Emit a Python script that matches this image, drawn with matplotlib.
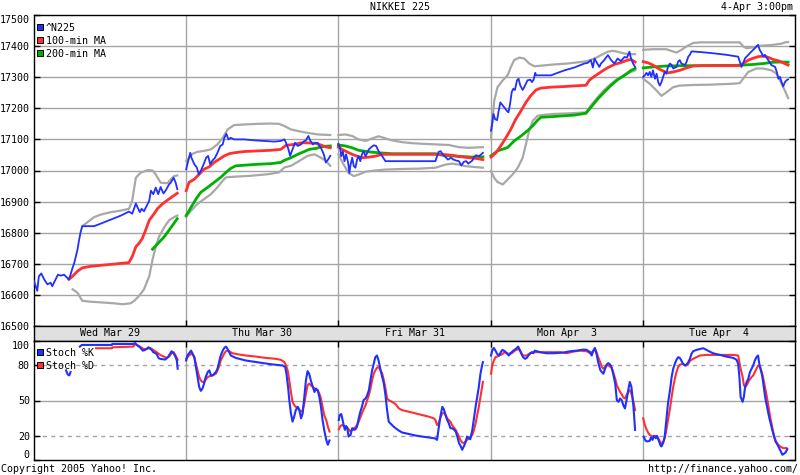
import numpy as np
import matplotlib
matplotlib.use("Agg")
from matplotlib import pyplot as plt
from matplotlib.patches import Rectangle

nan = float("nan")

DAYS = ["Wed Mar 29", "Thu Mar 30", "Fri Mar 31", "Mon Apr  3", "Tue Apr  4"]
SESSION = 375  # minutes given to each day on the x axis (9:00 -> 15:15)

# every series: one list per day of (minutes after 9:00, value)
n225 = [
    [(0, 16644), (8, 16613), (12, 16660), (18, 16669), (25, 16650), (33, 16634), (41, 16639), (45, 16628),
     (51, 16644), (59, 16665), (66, 16662), (74, 16665), (82, 16655), (86, 16650), (90, 16665), (95, 16687),
     (99, 16702), (103, 16723), (107, 16745), (111, 16776), (115, 16803), (119, 16821), (132, 16821),
     (148, 16821), (164, 16829), (189, 16842), (214, 16855), (234, 16868), (242, 16861), (251, 16894),
     (255, 16882), (261, 16866), (265, 16877), (271, 16869), (284, 16903), (288, 16935), (294, 16924),
     (300, 16945), (306, 16924), (312, 16947), (319, 16926), (325, 16937), (333, 16956), (337, 16961),
     (344, 16977), (349, 16961), (353, 16940)],
    [(0, 17004), (5, 17031), (10, 17057), (13, 17041), (20, 17020), (26, 17010), (31, 16988), (36, 16999),
     (43, 17020), (49, 17041), (54, 17047), (59, 17020), (64, 17031), (71, 17041), (77, 17057), (84, 17079),
     (90, 17084), (94, 17105), (99, 17118), (104, 17100), (110, 17105), (118, 17100), (143, 17100),
     (168, 17097), (192, 17095), (217, 17093), (233, 17095), (242, 17100), (246, 17089), (252, 17068),
     (256, 17047), (262, 17068), (268, 17089), (275, 17079), (283, 17084), (289, 17093), (295, 17097),
     (301, 17111), (306, 17095), (312, 17084), (317, 17089), (324, 17089), (328, 17079), (332, 17073),
     (339, 17052), (344, 17026), (350, 17036), (355, 17047)],
    [(0, 17086), (4, 17073), (7, 17046), (11, 17062), (15, 17030), (19, 17052), (24, 17025), (27, 16992),
     (30, 17019), (34, 17041), (38, 17014), (42, 17009), (46, 17035), (50, 17046), (54, 17030), (58, 17052),
     (62, 17062), (67, 17046), (71, 17057), (75, 17068), (81, 17075), (87, 17081), (93, 17079), (99, 17062),
     (108, 17046), (116, 17030), (132, 17030), (157, 17030), (198, 17030), (239, 17030), (243, 17046),
     (247, 17060), (252, 17062), (257, 17052), (264, 17043), (270, 17035), (277, 17041), (284, 17035),
     (290, 17032), (297, 17030), (303, 17016), (309, 17028), (315, 17030), (320, 17022), (326, 17028),
     (330, 17032), (334, 17043), (339, 17049), (346, 17046), (352, 17052), (356, 17057)],
    [(1, 17128), (3, 17144), (7, 17182), (11, 17165), (16, 17162), (20, 17192), (24, 17219), (30, 17209),
     (35, 17201), (40, 17192), (44, 17187), (48, 17214), (52, 17252), (56, 17263), (60, 17259), (65, 17290),
     (69, 17295), (73, 17274), (79, 17259), (83, 17268), (87, 17279), (91, 17290), (98, 17292), (102, 17284),
     (106, 17292), (110, 17314), (112, 17306), (124, 17306), (149, 17306), (165, 17314), (182, 17322),
     (206, 17331), (231, 17344), (239, 17346), (247, 17355), (252, 17331), (256, 17360), (262, 17346),
     (268, 17333), (272, 17344), (280, 17355), (289, 17371), (297, 17355), (305, 17344), (313, 17360),
     (321, 17352), (330, 17365), (336, 17363), (342, 17382), (346, 17360), (351, 17344), (356, 17333)],
    [(1, 17301), (5, 17306), (9, 17314), (13, 17306), (17, 17317), (21, 17301), (25, 17322), (30, 17295),
     (34, 17311), (38, 17284), (42, 17273), (46, 17284), (50, 17301), (54, 17317), (58, 17311), (62, 17333),
     (67, 17344), (71, 17339), (75, 17328), (83, 17333), (87, 17350), (91, 17355), (95, 17344), (104, 17339),
     (108, 17350), (112, 17366), (116, 17372), (120, 17383), (141, 17381), (173, 17377), (206, 17372),
     (235, 17366), (239, 17350), (243, 17333), (247, 17344), (252, 17361), (260, 17372), (268, 17383),
     (276, 17393), (280, 17399), (284, 17404), (288, 17388), (293, 17377), (297, 17366), (301, 17372),
     (309, 17355), (317, 17339), (326, 17333), (330, 17317), (334, 17295), (338, 17301), (342, 17284),
     (346, 17270), (350, 17284), (354, 17290), (358, 17293)],
]

ma100 = [
    [(86, 16650), (95, 16660), (107, 16676), (119, 16687), (140, 16692), (164, 16695), (197, 16699),
     (234, 16704), (242, 16723), (251, 16755), (259, 16766), (267, 16782), (275, 16808), (284, 16840),
     (296, 16861), (304, 16877), (316, 16892), (329, 16905), (341, 16916), (353, 16927)],
    [(0, 16935), (7, 16962), (20, 16972), (32, 16988), (44, 17004), (57, 17012), (69, 17026), (81, 17036),
     (94, 17047), (106, 17054), (118, 17057), (143, 17061), (176, 17063), (209, 17065), (233, 17068),
     (246, 17081), (266, 17084), (283, 17089), (299, 17089), (320, 17087), (332, 17082), (344, 17076),
     (355, 17073)],
    [(0, 17075), (9, 17068), (21, 17060), (34, 17052), (46, 17046), (58, 17041), (75, 17043), (91, 17046),
     (108, 17052), (132, 17052), (157, 17052), (198, 17052), (239, 17052), (256, 17052), (280, 17049),
     (297, 17045), (322, 17041), (338, 17039), (356, 17035)],
    [(1, 17043), (13, 17057), (25, 17079), (38, 17106), (50, 17133), (62, 17165), (75, 17192), (87, 17219),
     (99, 17241), (112, 17259), (124, 17265), (149, 17268), (182, 17270), (206, 17272), (235, 17274),
     (243, 17290), (256, 17303), (272, 17317), (289, 17331), (305, 17341), (321, 17347), (338, 17355),
     (346, 17357), (356, 17349)],
    [(1, 17350), (13, 17346), (25, 17339), (38, 17328), (50, 17320), (62, 17314), (75, 17317), (91, 17322),
     (108, 17330), (124, 17336), (141, 17337), (173, 17337), (206, 17337), (239, 17337), (247, 17344),
     (260, 17355), (272, 17361), (284, 17366), (297, 17368), (309, 17364), (321, 17357), (334, 17353),
     (346, 17346), (358, 17339)],
]

ma200 = [
    [(292, 16747), (321, 16787), (353, 16845)],
    [(0, 16855), (12, 16882), (24, 16908), (36, 16930), (53, 16946), (69, 16962), (85, 16978), (98, 16994),
     (110, 17007), (122, 17015), (143, 17017), (176, 17020), (209, 17022), (233, 17026), (242, 17033),
     (258, 17041), (275, 17052), (291, 17061), (303, 17068), (320, 17071), (332, 17076), (344, 17078),
     (355, 17079)],
    [(0, 17082), (17, 17079), (34, 17073), (50, 17065), (75, 17060), (99, 17057), (132, 17054), (157, 17054),
     (198, 17054), (239, 17054), (256, 17049), (280, 17047), (305, 17045), (330, 17043), (356, 17044)],
    [(1, 17047), (17, 17063), (42, 17074), (58, 17095), (75, 17111), (91, 17128), (104, 17144), (116, 17162),
     (124, 17171), (149, 17173), (182, 17176), (206, 17178), (235, 17184), (247, 17203), (264, 17230),
     (280, 17252), (297, 17274), (313, 17292), (330, 17306), (346, 17322), (356, 17328)],
    [(1, 17330), (25, 17333), (58, 17336), (99, 17337), (141, 17337), (182, 17338), (223, 17338),
     (247, 17339), (272, 17341), (297, 17344), (321, 17348), (342, 17349), (358, 17348)],
]

band_hi = [
    [(119, 16821), (132, 16834), (148, 16850), (164, 16858), (189, 16866), (214, 16871), (234, 16877),
     (242, 16903), (247, 16945), (251, 16977), (263, 16993), (280, 17001), (292, 17000), (300, 16987),
     (312, 16961), (329, 16959), (337, 16972), (345, 16982), (353, 16984)],
    [(0, 17031), (7, 17041), (16, 17054), (28, 17060), (44, 17063), (61, 17068), (77, 17084), (90, 17105),
     (102, 17132), (118, 17146), (143, 17148), (176, 17150), (209, 17151), (229, 17150), (242, 17143),
     (258, 17132), (275, 17127), (299, 17121), (324, 17116), (355, 17114)],
    [(0, 17114), (17, 17116), (34, 17111), (50, 17100), (67, 17095), (83, 17103), (99, 17110), (112, 17105),
     (132, 17097), (157, 17091), (181, 17088), (206, 17086), (239, 17084), (272, 17082), (297, 17075),
     (321, 17073), (356, 17075)],
    [(1, 17106), (9, 17225), (17, 17268), (30, 17290), (42, 17306), (50, 17333), (58, 17355), (71, 17363),
     (83, 17360), (95, 17344), (108, 17335), (124, 17337), (157, 17341), (190, 17344), (223, 17349),
     (239, 17352), (256, 17360), (272, 17371), (289, 17382), (301, 17385), (313, 17382), (330, 17376),
     (346, 17374), (356, 17374)],
    [(1, 17388), (25, 17390), (58, 17390), (83, 17379), (95, 17388), (108, 17399), (124, 17410), (141, 17412),
     (182, 17412), (223, 17412), (239, 17412), (247, 17399), (256, 17393), (272, 17396), (288, 17401),
     (321, 17404), (342, 17408), (350, 17412), (358, 17413)],
]

band_lo = [
    [(95, 16618), (107, 16607), (119, 16581), (140, 16578), (164, 16576), (197, 16573), (218, 16570),
     (238, 16573), (247, 16581), (259, 16597), (271, 16618), (284, 16660), (292, 16713), (300, 16755),
     (308, 16787), (321, 16818), (333, 16840), (345, 16850), (353, 16855)],
    [(0, 16852), (12, 16871), (28, 16893), (44, 16908), (61, 16924), (77, 16946), (90, 16967), (98, 16978),
     (118, 16980), (159, 16983), (201, 16988), (229, 16994), (242, 17010), (258, 17015), (279, 17031),
     (299, 17047), (316, 17052), (332, 17041), (344, 17031), (355, 17015)],
    [(0, 17052), (13, 17019), (25, 16992), (38, 16982), (50, 16987), (67, 16996), (91, 17000), (116, 17003),
     (157, 17005), (198, 17006), (239, 17009), (264, 17019), (280, 17022), (297, 17019), (313, 17014),
     (338, 17011), (356, 17009)],
    [(1, 16998), (9, 16976), (17, 16963), (30, 16955), (42, 16971), (54, 16987), (67, 17009), (79, 17041),
     (87, 17084), (95, 17128), (104, 17160), (116, 17176), (132, 17179), (157, 17182), (198, 17184),
     (235, 17187), (247, 17209), (264, 17236), (280, 17259), (297, 17279), (313, 17295), (330, 17308),
     (346, 17317), (356, 17322)],
    [(1, 17295), (17, 17279), (34, 17257), (46, 17240), (58, 17251), (75, 17268), (91, 17273), (124, 17275),
     (165, 17276), (223, 17279), (239, 17281), (247, 17295), (260, 17317), (280, 17328), (297, 17328),
     (317, 17322), (330, 17311), (342, 17279), (350, 17257), (358, 17233)],
]

stoch_k = [
    [(79, 75.3), (83, 71.9), (87, 71.1), (90, 73.9), (100, nan), (113, 95.3), (118, 96.7), (192, 96.7),
     (193, 97.5), (245, 97.5), (249, 98.3), (253, 96.7), (261, 94.7), (268, 91.9), (274, 92.5), (282, 94.7),
     (290, 92.5), (294, 90.6), (302, 89.2), (307, 85.6), (311, 85.0), (323, 84.4), (330, 86.4), (335, 89.2),
     (339, 91.4), (344, 89.7), (349, 86.4), (352, 83.6), (354, 76.7)],
    [(0, 83.6), (3, 87.8), (7, 89.7), (12, 91.9), (16, 89.2), (20, 86.4), (24, 78.1), (28, 69.7), (32, 61.4),
     (36, 58.1), (40, 60.0), (44, 64.2), (48, 69.7), (53, 73.9), (57, 75.3), (61, 71.1), (65, 71.1),
     (69, 72.5), (73, 73.9), (77, 76.7), (81, 82.2), (85, 87.8), (90, 91.9), (94, 94.2), (98, 95.3),
     (102, 93.3), (106, 90.6), (110, 87.8), (122, 85.8), (147, 83.6), (180, 81.9), (213, 80.3), (238, 79.4),
     (244, 78.1), (247, 72.5), (251, 61.4), (254, 50.3), (258, 39.2), (262, 32.2), (266, 36.4), (270, 41.9),
     (275, 44.7), (279, 41.9), (283, 35.0), (287, 39.2), (291, 53.0), (295, 66.9), (299, 74.7), (303, 72.5),
     (307, 66.9), (312, 61.4), (316, 57.2), (320, 60.0), (324, 58.6), (328, 53.0), (332, 44.7), (336, 33.6),
     (340, 25.3), (345, 16.9), (349, 12.8), (353, 16.4)],
    [(1, 33.6), (3, 37.8), (7, 38.6), (9, 35.8), (13, 29.4), (16, 25.3), (19, 28.6), (22, 26.7), (25, 19.7),
     (30, 21.1), (34, 26.7), (38, 25.3), (42, 25.8), (46, 28.1), (50, 35.0), (54, 40.6), (58, 44.7),
     (62, 50.3), (67, 51.7), (71, 54.4), (75, 58.6), (79, 66.9), (83, 75.3), (87, 80.8), (91, 86.4),
     (95, 87.8), (99, 83.6), (104, 75.3), (108, 69.7), (112, 64.2), (116, 54.4), (120, 41.9), (124, 32.2),
     (128, 30.8), (132, 29.4), (136, 28.1), (141, 26.7), (149, 24.7), (157, 23.1), (173, 21.9), (190, 20.6),
     (206, 19.7), (223, 18.9), (239, 18.1), (243, 16.9), (247, 26.7), (252, 37.8), (256, 44.7), (260, 42.5),
     (264, 37.8), (268, 33.6), (272, 30.8), (276, 26.7), (280, 26.7), (284, 25.8), (289, 23.9), (293, 19.7),
     (297, 14.2), (301, 11.9), (305, 8.6), (309, 11.4), (313, 14.7), (317, 19.7), (321, 18.3), (325, 17.5),
     (330, 25.3), (334, 35.0), (338, 44.7), (342, 53.0), (346, 61.4), (350, 72.5), (354, 79.4), (356, 82.2)],
    [(1, 87.8), (4, 91.9), (8, 94.2), (12, 91.9), (16, 89.2), (21, 87.8), (25, 90.6), (29, 92.5), (35, 91.4),
     (41, 89.2), (45, 87.8), (49, 89.7), (56, 91.9), (62, 93.3), (68, 95.3), (72, 92.5), (76, 89.2),
     (80, 86.4), (85, 85.0), (89, 85.8), (93, 87.8), (97, 89.2), (101, 90.6), (105, 89.7), (109, 91.9),
     (122, 90.6), (138, 89.7), (155, 89.7), (179, 90.3), (196, 91.4), (212, 91.9), (229, 92.8), (237, 92.5),
     (245, 90.6), (249, 87.8), (253, 91.9), (257, 94.2), (261, 89.2), (265, 82.2), (270, 75.8), (274, 73.9),
     (278, 72.5), (282, 76.7), (286, 80.3), (290, 81.4), (294, 80.3), (298, 78.1), (302, 72.5), (307, 64.2),
     (311, 50.3), (315, 48.9), (319, 51.7), (323, 50.3), (327, 46.1), (331, 43.3), (335, 50.3), (339, 58.6),
     (343, 65.6), (347, 61.4), (352, 44.7), (356, 25.3)],
    [(2, 19.7), (7, 16.1), (11, 15.6), (17, 16.1), (20, 18.9), (24, 16.9), (27, 20.3), (32, 18.3), (35, 20.3),
     (40, 15.6), (44, 11.9), (46, 11.4), (50, 14.2), (54, 19.7), (58, 33.6), (62, 47.5), (67, 58.6),
     (71, 69.7), (75, 76.7), (79, 80.8), (83, 84.2), (87, 86.4), (91, 85.8), (95, 83.6), (99, 80.8),
     (104, 79.4), (108, 80.3), (112, 82.2), (116, 85.0), (120, 89.2), (124, 91.4), (132, 92.5), (141, 93.3),
     (149, 93.9), (157, 92.5), (173, 89.7), (190, 88.3), (206, 86.9), (223, 85.8), (231, 84.2), (235, 80.8),
     (238, 69.7), (241, 53.0), (246, 48.9), (249, 53.0), (252, 61.4), (256, 65.6), (260, 68.3), (264, 73.9),
     (268, 76.7), (272, 79.4), (276, 83.6), (280, 86.4), (284, 87.8), (287, 80.8), (290, 76.7), (294, 71.1),
     (298, 61.4), (302, 51.7), (307, 43.3), (311, 36.4), (315, 30.8), (319, 25.3), (323, 20.3), (327, 15.6),
     (332, 12.8), (336, 10.0), (340, 7.2), (344, 4.4), (348, 5.3), (352, 6.4), (356, 9.2)],
]

stoch_d = [
    [(153, 93.9), (192, 93.9), (193, 94.7), (245, 95.3), (249, 97.5), (253, 96.9), (261, 95.3), (270, 93.3),
     (278, 93.3), (286, 94.2), (294, 92.5), (302, 90.6), (311, 88.3), (319, 87.0), (327, 85.8), (333, 87.0),
     (339, 89.7), (344, 90.6), (349, 87.8), (354, 84.2)],
    [(0, 85.0), (3, 86.4), (7, 87.8), (12, 89.2), (16, 88.6), (20, 86.4), (24, 80.8), (28, 75.3), (32, 69.7),
     (36, 66.9), (40, 65.6), (44, 65.6), (48, 67.5), (53, 69.7), (57, 70.3), (65, 71.1), (73, 72.5),
     (77, 75.3), (81, 78.6), (85, 83.6), (90, 86.9), (94, 89.7), (98, 91.4), (102, 91.9), (106, 91.4),
     (114, 89.7), (131, 88.6), (147, 87.8), (172, 86.9), (196, 85.8), (221, 85.0), (233, 84.2), (242, 82.2),
     (246, 79.4), (250, 75.3), (254, 66.9), (258, 57.2), (262, 48.9), (266, 46.1), (270, 44.7), (275, 43.3),
     (279, 41.9), (283, 40.6), (287, 41.9), (291, 47.5), (295, 55.8), (299, 62.8), (303, 64.2), (307, 62.8),
     (312, 61.4), (320, 59.2), (324, 58.6), (328, 55.8), (332, 51.7), (336, 44.7), (340, 37.8), (345, 33.6),
     (349, 28.1), (353, 23.9)],
    [(1, 25.8), (5, 28.6), (9, 29.4), (13, 28.6), (17, 27.5), (21, 27.5), (25, 25.8), (30, 23.9), (34, 25.8),
     (38, 26.7), (42, 27.5), (46, 29.4), (50, 32.2), (54, 35.8), (58, 39.2), (62, 42.5), (67, 46.1),
     (71, 50.3), (75, 54.4), (79, 60.0), (83, 66.9), (87, 72.5), (91, 75.3), (95, 77.5), (99, 78.1),
     (104, 75.3), (108, 72.5), (112, 66.9), (116, 60.0), (120, 51.7), (124, 50.3), (132, 48.9), (141, 46.9),
     (149, 43.3), (157, 41.9), (173, 40.6), (190, 39.2), (206, 37.8), (223, 36.4), (235, 35.0), (239, 33.6),
     (243, 29.4), (247, 30.8), (252, 36.4), (256, 39.2), (260, 39.7), (264, 37.8), (268, 35.0), (272, 33.6),
     (276, 32.2), (280, 29.4), (284, 27.5), (289, 25.3), (293, 22.5), (297, 19.7), (301, 16.4), (305, 14.7),
     (309, 14.2), (313, 15.6), (317, 16.9), (321, 18.3), (325, 19.2), (330, 21.1), (334, 25.3), (338, 30.8),
     (342, 37.8), (346, 44.7), (350, 53.0), (354, 61.4), (356, 65.6)],
    [(1, 72.5), (4, 79.4), (8, 83.6), (12, 86.4), (16, 86.9), (21, 87.8), (27, 88.6), (35, 90.6), (44, 89.2),
     (52, 89.7), (60, 91.9), (68, 93.3), (72, 91.9), (80, 87.8), (89, 87.8), (97, 89.7), (105, 90.6),
     (113, 90.6), (138, 90.6), (171, 90.6), (187, 89.7), (204, 91.1), (220, 91.9), (237, 91.4), (245, 89.7),
     (253, 91.4), (257, 93.3), (261, 90.6), (265, 86.4), (270, 82.2), (274, 78.1), (278, 76.7), (282, 78.1),
     (286, 79.4), (290, 79.4), (294, 78.6), (298, 77.5), (302, 73.9), (307, 68.3), (311, 62.8), (315, 60.0),
     (319, 57.2), (323, 55.3), (327, 52.5), (331, 51.7), (335, 54.4), (339, 57.2), (343, 58.6), (347, 55.8),
     (352, 48.9), (356, 41.9)],
    [(1, 35.0), (5, 29.4), (9, 25.8), (13, 23.1), (17, 21.1), (21, 20.3), (25, 19.2), (30, 20.3), (34, 19.7),
     (38, 18.3), (42, 15.6), (46, 14.2), (50, 14.7), (54, 18.3), (58, 25.3), (62, 33.6), (67, 43.3),
     (71, 53.0), (75, 61.4), (79, 68.3), (83, 73.9), (87, 78.1), (91, 80.0), (99, 80.8), (106, 79.4),
     (112, 80.8), (116, 83.1), (120, 84.2), (124, 85.0), (132, 86.4), (141, 87.8), (157, 88.3), (190, 88.3),
     (223, 88.3), (235, 87.8), (238, 82.2), (241, 76.7), (246, 69.7), (249, 62.8), (253, 61.4), (257, 63.6),
     (262, 66.9), (268, 69.7), (272, 71.1), (276, 73.9), (280, 76.7), (284, 79.4), (289, 78.1), (293, 73.9),
     (297, 68.3), (301, 61.4), (305, 54.4), (309, 46.1), (313, 37.8), (317, 30.8), (321, 23.9), (325, 18.3),
     (330, 14.2), (338, 11.4), (346, 10.0), (354, 10.0)],
]

price_ticks = list(range(16500, 17501, 100))
stoch_ticks = [0, 20, 50, 80, 100]

BLUE = "#2030ff"
RED = "#ff3030"
GREEN = "#00b000"
GREY = "#a8a8a8"
GRID = "#a4a4a4"

plt.rcParams["font.family"] = ["DejaVu Sans Mono"]
plt.rcParams["font.size"] = 7.2

W, H = 800, 475
fig = plt.figure(figsize=(W / 100, H / 100), dpi=100)


def box(x0, y0, x1, y1):
    # pixel box (top-left origin) -> figure fraction rect
    return [x0 / W, 1 - y1 / H, (x1 - x0) / W, (y1 - y0) / H]


ax = fig.add_axes(box(34, 15, 795, 326))
bar = fig.add_axes(box(34, 326, 795, 341))
st = fig.add_axes(box(34, 341, 795, 460))

bounds = [SESSION * i for i in range(1, len(DAYS))]


def draw(axis, series, color, lw):
    for day, pts in enumerate(series):
        t, v = zip(*pts)
        axis.plot(np.array(t) + day * SESSION, v, color=color, lw=lw, zorder=3)


# price panel
for y in price_ticks[1:-1]:
    ax.axhline(y, color=GRID, lw=1.0, zorder=1)
for x in bounds:
    ax.axvline(x, color=GRID, lw=1.0, zorder=1)
draw(ax, band_hi, GREY, 1.6)
draw(ax, band_lo, GREY, 1.6)
draw(ax, ma200, GREEN, 2.0)
draw(ax, ma100, RED, 2.0)
draw(ax, n225, BLUE, 1.3)
ax.set_xlim(0, SESSION * len(DAYS))
ax.set_ylim(16500, 17500)
ax.set_yticks(price_ticks)
ax.set_xticks(bounds)
ax.tick_params(axis="y", direction="in", left=True, right=True, length=4, width=1, pad=3, labelsize=7.2)
ax.tick_params(axis="x", direction="in", bottom=True, length=4, width=1, labelbottom=False)
labels = ax.get_yticklabels()
labels[-1].set_va("top")

# date strip
bar.set_facecolor("#e0e0e0")
bar.set_xlim(0, SESSION * len(DAYS))
bar.set_ylim(0, 1)
bar.set_xticks([])
bar.set_yticks([])
for i, d in enumerate(DAYS):
    bar.text(SESSION * (i + 0.5), 0.5, d, ha="center", va="center")

# stochastic panel
st.axhline(50, color=GRID, lw=1.0, zorder=1)
for y in (20, 80):
    st.axhline(y, color=GRID, lw=1.0, ls=(0, (3, 3)), zorder=1)
for x in bounds:
    st.axvline(x, color=GRID, lw=1.0, zorder=1)
draw(st, stoch_d, RED, 1.5)
draw(st, stoch_k, BLUE, 1.5)
st.set_xlim(0, SESSION * len(DAYS))
st.set_ylim(0, 100)
st.set_yticks(stoch_ticks)
st.set_xticks(bounds)
st.tick_params(axis="y", direction="in", left=True, right=True, length=4, width=1, pad=3, labelsize=7.2)
st.tick_params(axis="x", direction="in", bottom=False, top=True, length=4, width=1,
               labelbottom=False, labeltop=False)
labels = st.get_yticklabels()
labels[0].set_va("bottom")
labels[-1].set_va("top")

for a in (ax, bar, st):
    for s in a.spines.values():
        s.set_color("black")
        s.set_linewidth(1.0)


def legend(entries, y0):
    for i, (name, color) in enumerate(entries):
        y = y0 + 13 * i
        fig.add_artist(Rectangle((37 / W, 1 - (y + 3) / H), 6 / W, 6 / H, transform=fig.transFigure,
                                 facecolor=color, edgecolor="black", lw=0.7))
        fig.text(46 / W, 1 - (y + 1) / H, name, ha="left", va="center")


legend([("^N225", BLUE), ("100-min MA", RED), ("200-min MA", GREEN)], 27)
legend([("Stoch %K", BLUE), ("Stoch %D", RED)], 352)

fig.text(400 / W, 1 - 7 / H, "NIKKEI 225", ha="center", va="center")
fig.text(793 / W, 1 - 7 / H, "4-Apr 3:00pm", ha="right", va="center")
fig.text(1 / W, 1 - 469 / H, "Copyright 2005 Yahoo! Inc.", ha="left", va="center")
fig.text(798 / W, 1 - 469 / H, "http://finance.yahoo.com/", ha="right", va="center")

fig.savefig("out.png", dpi=100)
